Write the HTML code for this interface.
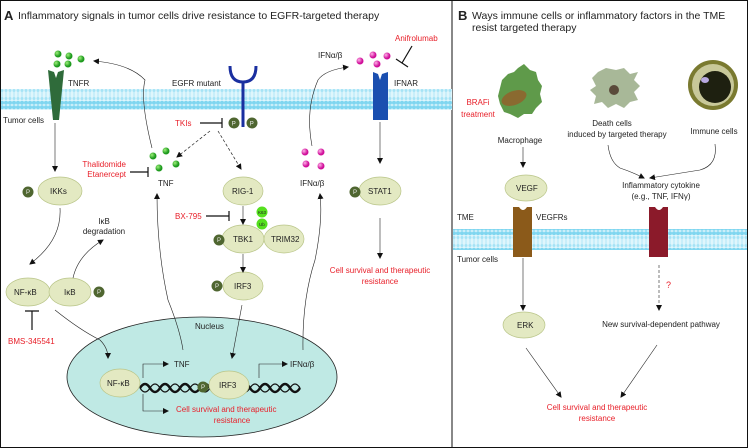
<!DOCTYPE html><html><head><meta charset="utf-8"><style>body{margin:0;background:#fff}svg{display:block}text{font-family:"Liberation Sans",sans-serif;font-size:8px;fill:#222}.r{fill:#e8202a}.p{fill:#eee;font-size:6px}</style></head><body>
<svg width="748" height="448" viewBox="0 0 748 448" xmlns="http://www.w3.org/2000/svg">
<defs>
<pattern id="mem" width="4" height="21" patternUnits="userSpaceOnUse"><rect width="4" height="21" fill="#dff6fc"/><circle cx="2" cy="2.2" r="2" fill="#7fd6f0"/><circle cx="2" cy="18.8" r="2" fill="#7fd6f0"/><circle cx="2" cy="6.5" r="1.5" fill="#a5e3f6"/><circle cx="2" cy="14.5" r="1.5" fill="#a5e3f6"/><line x1="2" y1="8" x2="2" y2="13" stroke="#a5e3f6" stroke-width="0.8"/></pattern>
<marker id="a" markerWidth="6" markerHeight="6" refX="5" refY="3" orient="auto" markerUnits="userSpaceOnUse"><path d="M0,0L6,3L0,6z" fill="#111"/></marker>
<radialGradient id="gb" cx="0.35" cy="0.35"><stop offset="0" stop-color="#9ef07a"/><stop offset="1" stop-color="#1e9a1e"/></radialGradient>
<radialGradient id="pb" cx="0.35" cy="0.35"><stop offset="0" stop-color="#ffb0e8"/><stop offset="1" stop-color="#d0109a"/></radialGradient>
</defs>
<rect x="0.5" y="0.5" width="747" height="447" fill="none" stroke="#111"/>
<line x1="452" y1="0" x2="452" y2="448" stroke="#111"/>
<text x="4" y="20" style="font-size:13px;font-weight:bold">A</text>
<text x="18" y="19" style="font-size:10.5px">Inflammatory signals in tumor cells drive resistance to EGFR-targeted therapy</text>
<text x="458" y="20" style="font-size:13px;font-weight:bold">B</text>
<text x="472" y="19" style="font-size:10.5px">Ways immune cells or inflammatory factors in the TME</text>
<text x="472" y="31" style="font-size:10.5px">resist targeted therapy</text>
<rect x="1" y="89" width="451" height="21" fill="url(#mem)"/>
<rect x="453" y="229" width="294" height="21" fill="url(#mem)"/>
<g fill="url(#gb)"><circle cx="58" cy="54" r="3.5"/><circle cx="69" cy="56" r="3.5"/><circle cx="81" cy="59" r="3.5"/><circle cx="57" cy="64" r="3.5"/><circle cx="68" cy="64" r="3.5"/>
<circle cx="153" cy="156" r="3.5"/><circle cx="166" cy="151" r="3.5"/><circle cx="159" cy="168" r="3.5"/><circle cx="176" cy="164" r="3.5"/></g>
<g fill="url(#pb)"><circle cx="360" cy="61" r="3.5"/><circle cx="373" cy="55" r="3.5"/><circle cx="377" cy="64" r="3.5"/><circle cx="387" cy="56" r="3.5"/>
<circle cx="305" cy="152" r="3.5"/><circle cx="321" cy="152" r="3.5"/><circle cx="306" cy="164" r="3.5"/><circle cx="321" cy="166" r="3.5"/></g>
<path d="M48,70L54,72L56,78L58,72L64,70L59,120L53,120Z" fill="#2f6b3a"/>
<text x="68" y="86">TNFR</text><text x="3" y="123">Tumor cells</text>
<path d="M230,66Q230,82 243,82Q256,82 256,66" fill="none" stroke="#1a2fa0" stroke-width="3"/>
<line x1="243" y1="82" x2="243" y2="127" stroke="#1a2fa0" stroke-width="3"/>
<text x="172" y="86">EGFR mutant</text>
<g fill="#4f6630"><circle cx="234" cy="123" r="5.5"/><circle cx="252" cy="123" r="5.5"/></g>
<text x="231.8" y="125.5" class="p">P</text><text x="249.8" y="125.5" class="p">P</text>
<text x="175" y="126" class="r">TKIs</text>
<path d="M200,123H222M222,118V128" stroke="#111" stroke-width="1.2"/>
<path d="M373,72L378,74L380,80L382,74L388,72L388,120L373,120Z" fill="#1a4fb0"/>
<text x="394" y="86">IFNAR</text><text x="318" y="58">IFNα/β</text>
<text x="395" y="41" class="r">Anifrolumab</text>
<path d="M412,46L402,63M396,59L408,67" stroke="#111" stroke-width="1.2"/>
<path d="M152,148Q140,100 145,80Q130,64 94,61" fill="none" stroke="#222" stroke-width="0.6" marker-end="url(#a)"/>
<path d="M312,146Q305,110 318,80Q325,70 348,67" fill="none" stroke="#222" stroke-width="0.6" marker-end="url(#a)"/>
<path d="M210,131L177,157" stroke="#222" stroke-width="0.7" stroke-dasharray="3,2" marker-end="url(#a)"/>
<path d="M218,131L241,169" stroke="#222" stroke-width="0.7" stroke-dasharray="3,2" marker-end="url(#a)"/>
<text x="158" y="186">TNF</text><text x="300" y="186">IFNα/β</text>
<text x="126" y="167" class="r" text-anchor="end">Thalidomide</text><text x="126" y="177" class="r" text-anchor="end">Etanercept</text>
<path d="M130,172H148M148,167V177" stroke="#111" stroke-width="1.2"/>
<g fill="#e3e9c2" stroke="#b9c588" stroke-width="0.7">
<ellipse cx="243" cy="191" rx="20" ry="14"/><ellipse cx="243" cy="239" rx="21" ry="14"/><ellipse cx="284" cy="239" rx="20" ry="14"/><ellipse cx="243" cy="286" rx="20" ry="14"/>
<ellipse cx="380" cy="191" rx="21" ry="14"/><ellipse cx="60" cy="191" rx="22" ry="14"/><ellipse cx="28" cy="292" rx="22" ry="14"/><ellipse cx="70" cy="292" rx="21" ry="14"/>
<ellipse cx="526" cy="188" rx="21" ry="13"/><ellipse cx="524" cy="325" rx="21" ry="13"/></g>
<ellipse cx="202" cy="377" rx="135" ry="60" fill="#bfe9e4" stroke="#222" stroke-width="0.8"/>
<text x="195" y="329">Nucleus</text>
<path d="M140,388q5,-8 10,0t10,0t10,0t10,0t10,0t10,0t10,0t10,0t10,0t10,0t10,0t10,0t10,0t10,0t10,0t10,0" fill="none" stroke="#111" stroke-width="2.5"/>
<path d="M140,388q5,8 10,0t10,0t10,0t10,0t10,0t10,0t10,0t10,0t10,0t10,0t10,0t10,0t10,0t10,0t10,0t10,0" fill="none" stroke="#111" stroke-width="1.2"/>
<g fill="#e3e9c2" stroke="#b9c588" stroke-width="0.7"><ellipse cx="120" cy="383" rx="20" ry="14"/><ellipse cx="229" cy="385" rx="20" ry="14"/></g>
<g fill="#4f6630"><circle cx="219" cy="240" r="5.5"/><circle cx="217" cy="286" r="5.5"/><circle cx="355" cy="192" r="5.5"/><circle cx="28" cy="192" r="5.5"/><circle cx="99" cy="292" r="5.5"/><circle cx="203" cy="387" r="5.5"/></g>
<text x="217" y="242" class="p">P</text><text x="215" y="288" class="p">P</text><text x="353" y="194" class="p">P</text><text x="26" y="194" class="p">P</text><text x="97" y="294" class="p">P</text><text x="201" y="389" class="p">P</text>
<g fill="#55e01e"><circle cx="262" cy="212" r="5.5"/><circle cx="262" cy="224" r="5.5"/></g>
<text x="258" y="214" style="font-size:4.5px">K63</text><text x="259" y="226" style="font-size:4.5px">Ub</text>
<text x="232" y="194">RIG-1</text><text x="233" y="242">TBK1</text><text x="271" y="242">TRIM32</text><text x="234" y="289">IRF3</text>
<text x="368" y="194">STAT1</text><text x="50" y="194">IKKs</text><text x="14" y="295">NF-κB</text><text x="64" y="295">IκB</text>
<text x="107" y="386">NF-κB</text><text x="219" y="388">IRF3</text>
<text x="175" y="219" class="r">BX-795</text>
<path d="M206,216H229M229,211V221" stroke="#111" stroke-width="1.2"/>
<g stroke="#222" stroke-width="0.6" fill="none">
<path d="M243,206V224" marker-end="url(#a)"/><path d="M243,254V272" marker-end="url(#a)"/><path d="M380,122V163" marker-end="url(#a)"/><path d="M380,218V258" marker-end="url(#a)"/><path d="M55,123V171" marker-end="url(#a)"/>
<path d="M60,208Q62,240 30,264" marker-end="url(#a)"/>
<path d="M73,278Q78,255 103,240" marker-end="url(#a)"/>
<path d="M55,310Q80,330 100,340Q108,348 108,358" marker-end="url(#a)"/>
<path d="M183,350Q180,330 168,300Q157,250 157,194" marker-end="url(#a)"/>
<path d="M303,350Q302,300 315,260Q323,220 320,194" marker-end="url(#a)"/>
<path d="M242,305L232,358" marker-end="url(#a)"/>
<path d="M143,378V364H168" marker-end="url(#a)"/><path d="M259,378V364H287" marker-end="url(#a)"/><path d="M143,394V411H168" marker-end="url(#a)"/>
<path d="M523,147V167" marker-end="url(#a)"/><path d="M523,258V310" marker-end="url(#a)"/><path d="M526,348L561,397" marker-end="url(#a)"/><path d="M657,345L621,397" marker-end="url(#a)"/>
<path d="M608,145Q610,162 620,168Q632,172 644,178" marker-end="url(#a)"/><path d="M715,144Q718,165 700,170Q675,174 650,178" marker-end="url(#a)"/>
</g>
<text x="380" y="273" class="r" text-anchor="middle">Cell survival and therapeutic</text><text x="380" y="284" class="r" text-anchor="middle">resistance</text>
<text x="104" y="224" text-anchor="middle">IκB</text><text x="104" y="234" text-anchor="middle">degradation</text>
<text x="8" y="344" class="r">BMS-345541</text>
<path d="M32,330V311M25,311H39" stroke="#111" stroke-width="1.2"/>
<text x="174" y="367">TNF</text><text x="290" y="367">IFNα/β</text>
<text x="176" y="412" class="r">Cell survival and therapeutic</text><text x="232" y="423" class="r" text-anchor="middle">resistance</text>
<text x="478" y="105" class="r" text-anchor="middle">BRAFi</text><text x="478" y="117" class="r" text-anchor="middle">treatment</text>
<path d="M518,68l6,-4l6,6l6,2l2,8l4,6l-2,8l2,8l-6,6l-4,6l-8,0l-6,4l-8,-4l-6,-2l-4,-8l-2,-8l2,-8l2,-8l6,-6l6,-2z" fill="#5f9a4a"/>
<ellipse cx="514" cy="98" rx="13" ry="7" transform="rotate(-20 514 98)" fill="#8a6a30"/>
<text x="520" y="143" text-anchor="middle">Macrophage</text>
<text x="516" y="191">VEGF</text><text x="517" y="328">ERK</text>
<path d="M513,207H519Q523,213 527,207H532V257H513Z" fill="#8b5a1a"/>
<text x="536" y="220">VEGFRs</text><text x="457" y="220">TME</text><text x="457" y="262">Tumor cells</text>
<path d="M598,72l8,-4l10,2l8,-2l6,6l8,-2l-4,8l6,6l-6,6l4,8l-8,2l-6,6l-8,-4l-8,4l-6,-6l-8,2l2,-8l-6,-6l6,-4l-4,-8z" fill="#a8b898"/>
<circle cx="614" cy="90" r="5" fill="#5a4a3a"/>
<text x="612" y="126" text-anchor="middle">Death cells</text><text x="617" y="137" text-anchor="middle">induced by targeted therapy</text>
<circle cx="713" cy="85" r="25" fill="#7a7a30"/><circle cx="713" cy="85" r="21" fill="#c8c89a"/><circle cx="715" cy="87" r="16" fill="#1e2010"/><ellipse cx="705" cy="80" rx="4" ry="3" fill="#b8a8e0"/>
<text x="714" y="134" text-anchor="middle">Immune cells</text>
<text x="661" y="188" text-anchor="middle">Inflammatory cytokine</text><text x="661" y="199" text-anchor="middle">(e.g., TNF, IFNγ)</text>
<path d="M649,207H655Q659,213 663,207H668V257H649Z" fill="#8b1a2a"/>
<path d="M659,265V310" stroke="#222" stroke-width="0.6" stroke-dasharray="3,2" marker-end="url(#a)"/>
<text x="666" y="288" class="r" style="font-size:9px">?</text>
<text x="661" y="327" text-anchor="middle">New survival-dependent pathway</text>
<text x="597" y="410" class="r" text-anchor="middle">Cell survival and therapeutic</text><text x="597" y="421" class="r" text-anchor="middle">resistance</text>
</svg></body></html>
